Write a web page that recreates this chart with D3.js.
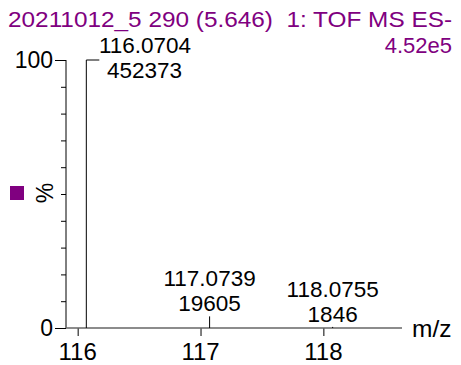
<!DOCTYPE html>
<html>
<head>
<meta charset="utf-8">
<script src="https://cdn.jsdelivr.net/npm/d3@7"></script>
<style>
  html, body { margin: 0; padding: 0; background: #fff; }
  svg { display: block; }
  text { font-family: "Liberation Sans", Arial, sans-serif; white-space: pre; }
</style>
</head>
<body>
<svg id="chart" width="461" height="365"></svg>
<script>
// Spectrum header
const titleText = "20211012_5 290 (5.646)  1: TOF MS ES-";
const maxIntensityText = "4.52e5";

// Labelled peaks: m/z and absolute intensity
const peakMz = [116.0704, 117.0739, 118.0755];
const peakIntensity = [452373, 19605, 1846];

// Axis ticks
const xTickValues = [116, 117, 118];
const yTickValues = [0, 10, 20, 30, 40, 50, 60, 70, 80, 90, 100];
const yLabelValues = [0, 100];

const purple = "#800080";
const svg = d3.select("#chart");

const x = d3.scaleLinear().domain([115.905, 118.64]).range([66, 402]);
const y = d3.scaleLinear().domain([0, 100]).range([328, 60]);
const basePeak = d3.max(peakIntensity);
const pct = v => v / basePeak * 100;

// Title
svg.append("text").attr("x", 8).attr("y", 27)
  .attr("font-size", 22.5).attr("fill", purple)
  .attr("textLength", 444).attr("lengthAdjust", "spacingAndGlyphs")
  .text(titleText);
svg.append("text").attr("x", 452).attr("y", 53).attr("text-anchor", "end")
  .attr("font-size", 22).attr("fill", purple).text(maxIntensityText);

// Y axis
const yAxis = svg.append("g").attr("transform", "translate(66,0)")
  .call(d3.axisLeft(y).tickValues(yTickValues).tickSize(5).tickFormat(""));
yAxis.select(".domain").remove();
yAxis.selectAll(".tick line")
  .attr("x2", d => (d === 0 || d === 100) ? -11 : -5)
  .attr("stroke", "#000").attr("stroke-width", 1);
svg.append("line").attr("x1", 66).attr("x2", 66)
  .attr("y1", y(100)).attr("y2", y(0)).attr("stroke", "#000");
svg.selectAll("text.ylab").data(yLabelValues).enter().append("text")
  .attr("class", "ylab")
  .attr("x", 53).attr("y", d => y(d) + 8)
  .attr("text-anchor", "end").attr("font-size", 23).text(d => d);

// Percent label and marker
svg.append("rect").attr("x", 10).attr("y", 186).attr("width", 14).attr("height", 14)
  .attr("fill", purple);
svg.append("text").attr("transform", "translate(53,193) rotate(-90)")
  .attr("text-anchor", "middle").attr("font-size", 23).text("%");

// X axis
const xAxis = svg.append("g").attr("transform", "translate(0,328)")
  .call(d3.axisBottom(x).tickValues(xTickValues).tickSize(8).tickFormat(""));
xAxis.select(".domain").remove();
xAxis.selectAll(".tick line").attr("stroke", "#000");
svg.selectAll("text.xlab").data(xTickValues).enter().append("text")
  .attr("class", "xlab")
  .attr("x", d => x(d)).attr("y", 360)
  .attr("text-anchor", "middle").attr("font-size", 24).text(d => d);
svg.append("line").attr("x1", 66).attr("x2", 402).attr("y1", y(0)).attr("y2", y(0))
  .attr("stroke", "#666").attr("stroke-width", 1.5);
svg.append("text").attr("x", 412).attr("y", 337).attr("font-size", 24.5).text("m/z");

// Peaks
const peaks = peakMz.map((m, i) => ({ mz: m, inten: peakIntensity[i] }));
svg.selectAll("line.peak").data(peaks).enter().append("line")
  .attr("class", "peak")
  .attr("x1", d => x(d.mz)).attr("x2", d => x(d.mz))
  .attr("y1", y(0)).attr("y2", d => y(pct(d.inten)))
  .attr("stroke", "#000").attr("stroke-width", 1);

// Base peak hook
svg.append("line")
  .attr("x1", x(peakMz[0])).attr("x2", x(peakMz[0]) + 13)
  .attr("y1", y(100)).attr("y2", y(100)).attr("stroke", "#000");

// Peak labels: m/z above, intensity below
peaks.forEach((d, i) => {
  const isBase = i === 0;
  const cx = isBase ? 145 : x(d.mz);
  const top = isBase ? 53 : y(pct(d.inten)) - 30;
  svg.append("text").attr("x", cx).attr("y", top)
    .attr("text-anchor", "middle").attr("font-size", 22.5).text(d.mz.toFixed(4));
  svg.append("text").attr("x", isBase ? 144.5 : cx).attr("y", top + 25)
    .attr("text-anchor", "middle").attr("font-size", 22.5).text(d.inten);
});
</script>
</body>
</html>
